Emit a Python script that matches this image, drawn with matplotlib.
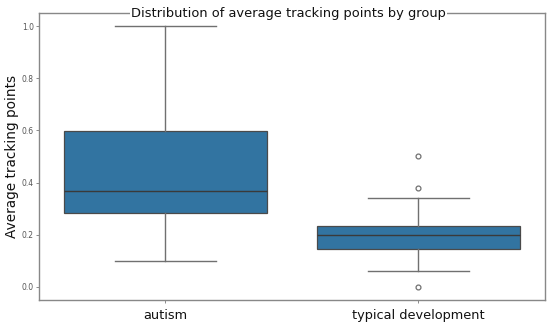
import matplotlib
matplotlib.use("Agg")
import matplotlib.pyplot as plt

groups = ["autism", "typical development"]
whislo = [0.10, 0.06]
q1 = [0.282, 0.145]
med = [0.369, 0.200]
q3 = [0.597, 0.235]
whishi = [1.00, 0.34]
fliers = [[], [0.50, 0.38, 0.0]]

title = "Distribution of average tracking points by group"
ylabel = "Average tracking points"
yticks = [0.0, 0.2, 0.4, 0.6, 0.8, 1.0]

box_color = "#3274a1"
line_color = "#707070"

fig = plt.figure(figsize=(5.5, 3.26), dpi=100)
ax = fig.add_axes([0.0709, 0.080, 0.920, 0.880])

stats = []
for i, g in enumerate(groups):
    stats.append(dict(label=g, whislo=whislo[i], q1=q1[i], med=med[i],
                      q3=q3[i], whishi=whishi[i], fliers=fliers[i]))

ax.bxp(stats, positions=range(len(groups)), widths=0.8, patch_artist=True,
       showfliers=True,
       boxprops=dict(facecolor=box_color, edgecolor="#4a4a4a", linewidth=0.9),
       medianprops=dict(color="#3a3a3a", linewidth=1.0),
       whiskerprops=dict(color=line_color, linewidth=1.0),
       capprops=dict(color=line_color, linewidth=1.0),
       capwidths=0.4,
       flierprops=dict(marker="o", markersize=3.5, markerfacecolor="none",
                       markeredgecolor=line_color, markeredgewidth=0.9))

ax.set_xlim(-0.5, 1.5)
ax.set_ylim(-0.05, 1.05)
ax.set_yticks(yticks)
ax.set_yticklabels([f"{v:.1f}" for v in yticks])
ax.tick_params(axis="y", labelsize=5.5, labelcolor="#555555", length=2.2,
               width=0.6, color="#777777", pad=1.5)
ax.tick_params(axis="x", labelsize=9.3, labelcolor="#111111", length=2.2,
               width=0.6, color="#777777", pad=4)
for s in ax.spines.values():
    s.set_color("#888888")
    s.set_linewidth(1.0)

ax.set_ylabel(ylabel, fontsize=9.8, color="#111111", labelpad=2)
ax.text(0.493, 1.0, title, transform=ax.transAxes, ha="center", va="center",
        fontsize=9.4, color="#111111",
        bbox=dict(facecolor="white", edgecolor="none", pad=0.5))

fig.savefig("out.png", dpi=100, facecolor="white")
